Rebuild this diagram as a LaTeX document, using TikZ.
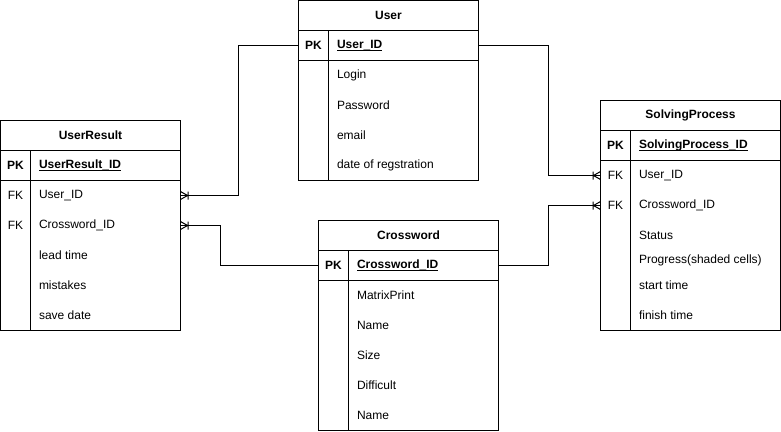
\documentclass[tikz,border=0pt]{standalone}
\usepackage{fontspec}
\setmainfont{Liberation Sans}
\newcommand\myul[1]{\setbox0\hbox{#1}\rlap{\rule[-2.2pt]{\wd0}{0.8pt}}\box0}
\pgfdeclarearrow{
  name = crowone,
  setup code = {
    \pgfarrowssettipend{0pt}
    \pgfarrowssetlineend{0pt}
    \pgfarrowsupperhullpoint{-8pt}{4.5pt}
    \pgfarrowsupperhullpoint{0pt}{4.5pt}
  },
  drawing code = {
    \pgfsetdash{}{0pt}
    \pgfpathmoveto{\pgfpoint{-7pt}{0pt}}
    \pgfpathlineto{\pgfpoint{0pt}{4pt}}
    \pgfpathmoveto{\pgfpoint{-7pt}{0pt}}
    \pgfpathlineto{\pgfpoint{0pt}{-4pt}}
    \pgfpathmoveto{\pgfpoint{-7.5pt}{4pt}}
    \pgfpathlineto{\pgfpoint{-7.5pt}{-4pt}}
    \pgfusepathqstroke
  },
}
\begin{document}
\begin{tikzpicture}[x=1pt,y=1pt,line width=1pt,
  font=\fontsize{12}{14}\selectfont,
  hdr/.style={draw, minimum width=180pt, minimum height=30pt, inner sep=0pt, outer sep=0pt, anchor=north west, font=\fontsize{12}{14}\selectfont\bfseries},
  body/.style={draw, minimum width=180pt, inner sep=0pt, outer sep=0pt, anchor=north west},
  row/.style={minimum width=180pt, minimum height=30pt, inner sep=0pt, outer sep=0pt, anchor=north west},
  key/.style={inner sep=0pt, anchor=center},
  fld/.style={inner sep=0pt, anchor=west},
  rel/.style={-crowone}]

\useasboundingbox (0,0) rectangle (781,-431);

% ---------- User ----------
\node[hdr] (uT) at (298.5,-0.5) {User};
\node[hdr] (uPK) at (298.5,-30.5) {};
\node[body, minimum height=120pt] (uB) at (298.5,-60.5) {};
\draw ([xshift=30pt]uPK.north west) -- ([xshift=30pt]uB.south west);
\node[key] (uPKk) at ([xshift=15pt]uPK.west) {\textbf{PK}};
\node[fld] (uPKf) at ([xshift=38pt]uPK.west) {\myul{\textbf{User\_ID}}};
\node[fld] (uf1) at (336.5,-75.5) {Login};
\node[fld] (uf2) at (336.5,-105.5) {Password};
\node[fld] (uf3) at (336.5,-135.5) {email};
\node[fld] (uf4) at (336.5,-165.5) {date of regstration};

% ---------- UserResult ----------
\node[hdr] (urT) at (0.5,-120.5) {UserResult};
\node[hdr] (urPK) at (0.5,-150.5) {};
\node[body, minimum height=150pt] (urB) at (0.5,-180.5) {};
\draw ([xshift=30pt]urPK.north west) -- ([xshift=30pt]urB.south west);
\node[key] (urPKk) at ([xshift=15pt]urPK.west) {\textbf{PK}};
\node[fld] (urPKf) at ([xshift=38pt]urPK.west) {\myul{\textbf{UserResult\_ID}}};
\node[row] (urUser) at (0.5,-180.5) {};
\node[row] (urCw) at (0.5,-210.5) {};
\node[key] (urk1) at ([xshift=15pt]urUser.west) {FK};
\node[fld] (urf1) at ([xshift=38pt]urUser.west) {User\_ID};
\node[key] (urk2) at ([xshift=15pt]urCw.west) {FK};
\node[fld] (urf2) at ([xshift=38pt]urCw.west) {Crossword\_ID};
\node[fld] (urf3) at (38.5,-255.5) {lead time};
\node[fld] (urf4) at (38.5,-285.5) {mistakes};
\node[fld] (urf5) at (38.5,-315.5) {save date};

% ---------- Crossword ----------
\node[hdr] (cwT) at (318.5,-220.5) {Crossword};
\node[hdr] (cwPK) at (318.5,-250.5) {};
\node[body, minimum height=150pt] (cwB) at (318.5,-280.5) {};
\draw ([xshift=30pt]cwPK.north west) -- ([xshift=30pt]cwB.south west);
\node[key] (cwPKk) at ([xshift=15pt]cwPK.west) {\textbf{PK}};
\node[fld] (cwPKf) at ([xshift=38pt]cwPK.west) {\myul{\textbf{Crossword\_ID}}};
\node[fld] (cwf1) at (356.5,-295.5) {MatrixPrint};
\node[fld] (cwf2) at (356.5,-325.5) {Name};
\node[fld] (cwf3) at (356.5,-355.5) {Size};
\node[fld] (cwf4) at (356.5,-385.5) {Difficult};
\node[fld] (cwf5) at (356.5,-415.5) {Name};

% ---------- SolvingProcess ----------
\node[hdr] (spT) at (600.5,-100.5) {SolvingProcess};
\node[hdr] (spPK) at (600.5,-130.5) {};
\node[body, minimum height=170pt] (spB) at (600.5,-160.5) {};
\draw ([xshift=30pt]spPK.north west) -- ([xshift=30pt]spB.south west);
\node[key] (spPKk) at ([xshift=15pt]spPK.west) {\textbf{PK}};
\node[fld] (spPKf) at ([xshift=38pt]spPK.west) {\myul{\textbf{SolvingProcess\_ID}}};
\node[row] (spUser) at (600.5,-160.5) {};
\node[row] (spCw) at (600.5,-190.5) {};
\node[key] (spk1) at ([xshift=15pt]spUser.west) {FK};
\node[fld] (spf1) at ([xshift=38pt]spUser.west) {User\_ID};
\node[key] (spk2) at ([xshift=15pt]spCw.west) {FK};
\node[fld] (spf2) at ([xshift=38pt]spCw.west) {Crossword\_ID};
\node[fld] (spf3) at (638.5,-235.5) {Status};
\node[fld] (spf4) at (638.5,-260.5) {Progress(shaded cells)};
\node[fld] (spf5) at (638.5,-285.5) {start time};
\node[fld] (spf6) at (638.5,-315.5) {finish time};

% ---------- relations ----------
\draw[rel] (uPK.east) -- ++(70,0) |- (spUser.west);
\draw[rel] (uPK.west) -- ++(-60,0) |- (urUser.east);
\draw[rel] (cwPK.west) -- ++(-98,0) |- (urCw.east);
\draw[rel] (cwPK.east) -- ++(50,0) |- (spCw.west);
\end{tikzpicture}
\end{document}
